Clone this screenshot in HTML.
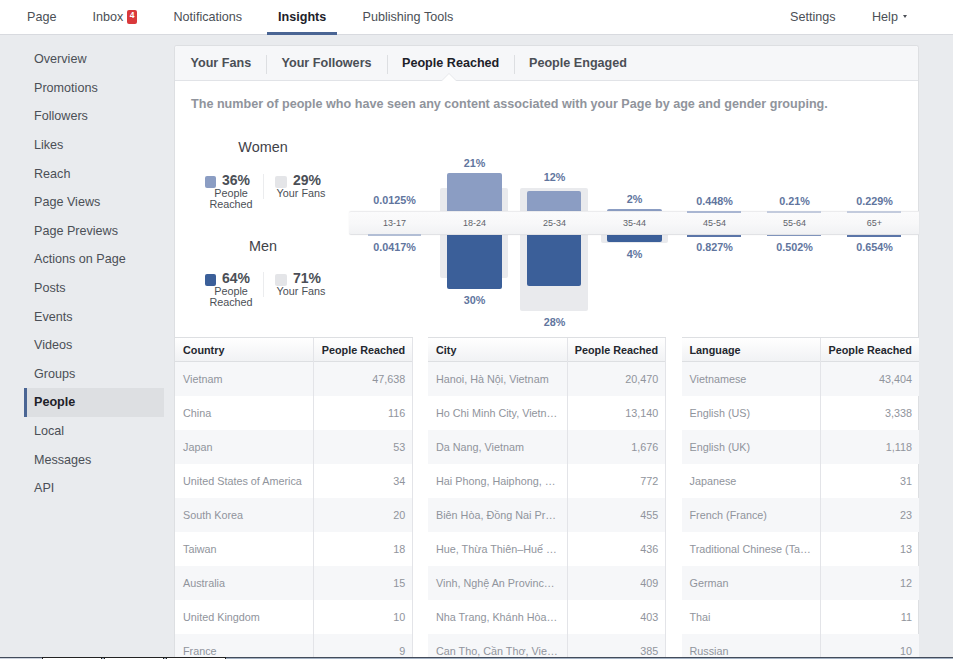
<!DOCTYPE html>
<html>
<head>
<meta charset="utf-8">
<title>Insights - People Reached</title>
<style>
*{box-sizing:border-box;margin:0;padding:0}
html,body{width:953px;height:659px;overflow:hidden}
body{background:#e9ebee;font-family:"Liberation Sans",sans-serif;color:#4b4f56;position:relative}
.abs{position:absolute;white-space:nowrap}
/* top nav */
#top{position:absolute;left:0;top:0;width:953px;height:35px;background:#fff;border-bottom:1px solid #d8dadf}
#top .it{position:absolute;top:10px;font-size:12.6px;line-height:15px;color:#4b4f56;white-space:nowrap}
#top .act{font-weight:bold;color:#1d2129}
#uline{position:absolute;left:267px;top:32px;width:70px;height:3px;background:#4a6594}
#badge{position:absolute;left:127px;top:10px;width:10px;height:13.7px;background:#d9393b;border-radius:2px;color:#fff;font-size:8.5px;font-weight:bold;line-height:11px;text-align:center}
#caret{position:absolute;left:903px;top:15px;width:0;height:0;border-left:2.5px solid transparent;border-right:2.5px solid transparent;border-top:3px solid #4b4f56}
/* sidebar */
.sb{position:absolute;left:34px;font-size:12.6px;line-height:15px;color:#4b4f56;white-space:nowrap}
#sel{position:absolute;left:24px;top:388px;width:140px;height:28.5px;background:#dddfe2;border-left:3px solid #4a6594}
/* card */
#card{position:absolute;left:174px;top:45px;width:745px;height:620px;background:#fff;border:1px solid #dddfe2;border-bottom:none;border-radius:3px 3px 0 0}
#tabs{position:absolute;left:0;top:0;width:743px;height:35px;background:#f6f7f9;border-bottom:1px solid #e1e3e7;border-radius:2px 2px 0 0}
.tab{position:absolute;top:10px;font-size:12.6px;line-height:15px;font-weight:bold;color:#4b4f56;white-space:nowrap}
.tsep{position:absolute;top:9px;width:1px;height:19px;background:#dddfe2}
#notch{position:absolute;left:266.6px;top:28px;width:0;height:0;border-left:7px solid transparent;border-right:7px solid transparent;border-bottom:7px solid #fff}
#notchb{position:absolute;left:265.6px;top:26.6px;width:0;height:0;border-left:8px solid transparent;border-right:8px solid transparent;border-bottom:8px solid #e6e8eb}
#desc{position:absolute;left:16px;top:51px;font-size:12.6px;line-height:15px;font-weight:bold;color:#90949c;white-space:nowrap}
/* chart (coordinates are page coords; container at 0,0 of body) */
.lbl{position:absolute;font-size:10.8px;line-height:12px;font-weight:bold;color:#61759e;text-align:center;width:80px;white-space:nowrap}
.age{position:absolute;top:217px;font-size:9px;line-height:12px;color:#5f636b;text-align:center;width:80px}
.bar{position:absolute}
.fan{background:#e9eaed;border-radius:2px}
.w{background:#8b9dc3;border-radius:2px 2px 0 0}
.m{background:#3b5f99;border-radius:0 0 2px 2px}
#band{position:absolute;left:349px;top:211.3px;width:570px;height:23.7px;background:linear-gradient(#fbfbfc 0%,#f8f8f9 50%,#f1f2f4 100%);border-top:1px solid #ececee;border-bottom:1px solid #e1e2e5;box-shadow:0 0 2px rgba(0,0,0,.05);border-radius:2px 0 0 2px}
.gt{position:absolute;font-size:14.4px;line-height:17px;color:#3f4248;white-space:nowrap;text-align:center}
.pc{position:absolute;font-size:14px;line-height:16px;font-weight:bold;color:#4b4f56;white-space:nowrap}
.sm{position:absolute;font-size:10.8px;line-height:11px;color:#4b4f56;text-align:center;white-space:nowrap}
.sq{position:absolute;width:11.2px;height:11.5px;border-radius:2px}
.vs{position:absolute;width:1px;height:25px;background:#ebecee}
/* tables */
.tbl{position:absolute;top:337px;width:238px;height:330px;border-top:1px solid #dddfe2}
.th{position:absolute;left:0;top:0;width:100%;height:24px;background:linear-gradient(#ffffff,#f1f2f4);border-bottom:1px solid #dddfe2}
.th span{position:absolute;top:6px;font-size:10.8px;line-height:12px;font-weight:bold;color:#23272e;white-space:nowrap}
.row{position:absolute;left:0;width:100%;height:34.06px;font-size:10.8px;line-height:12px;color:#90949c}
.row.o{background:#f6f7f9}
.row span{position:absolute;top:11px;white-space:nowrap}
.row .a{left:8px}
.row .b{right:7.8px}
.t3 .b{right:7.1px}
.t3 .th span+span{right:7.1px !important}
.cd{position:absolute;top:0;width:1px;height:100%;background:#e3e4e8}
#bl1{position:absolute;left:0;top:657px;width:953px;height:1px;background:#434c5b}
#bl2{position:absolute;left:0;top:658px;width:953px;height:1px;background:linear-gradient(90deg,#ccd2dd 0,#ccd2dd 42px,#a3b1c3 42px)}
#bl3{position:absolute;left:42px;top:657px;width:184px;height:1px;background:#222}
.ws{position:absolute;top:658px;height:1px;background:#fff;border-left:1px solid #222;border-right:1px solid #222}
</style>
</head>
<body>
<div id="top">
  <div class="it" style="left:27px">Page</div>
  <div class="it" style="left:92.5px">Inbox</div>
  <div id="badge">4</div>
  <div class="it" style="left:173.5px">Notifications</div>
  <div class="it act" style="left:278px">Insights</div>
  <div class="it" style="left:362.5px">Publishing Tools</div>
  <div class="it" style="left:790px">Settings</div>
  <div class="it" style="left:872px">Help</div>
  <div id="caret"></div>
  <div id="uline"></div>
</div>

<div id="sel"></div>
<div class="sb" style="top:52px">Overview</div>
<div class="sb" style="top:81px">Promotions</div>
<div class="sb" style="top:109px">Followers</div>
<div class="sb" style="top:138px">Likes</div>
<div class="sb" style="top:167px">Reach</div>
<div class="sb" style="top:195px">Page Views</div>
<div class="sb" style="top:224px">Page Previews</div>
<div class="sb" style="top:252px">Actions on Page</div>
<div class="sb" style="top:281px">Posts</div>
<div class="sb" style="top:310px">Events</div>
<div class="sb" style="top:338px">Videos</div>
<div class="sb" style="top:367px">Groups</div>
<div class="sb" style="top:395px;font-weight:bold;color:#1d2129">People</div>
<div class="sb" style="top:424px">Local</div>
<div class="sb" style="top:453px">Messages</div>
<div class="sb" style="top:481px">API</div>

<div id="card">
  <div id="tabs">
    <div class="tab" style="left:15.5px">Your Fans</div>
    <div class="tsep" style="left:91px"></div>
    <div class="tab" style="left:106.5px">Your Followers</div>
    <div class="tsep" style="left:212px"></div>
    <div class="tab" style="left:227px;color:#1d2129">People Reached</div>
    <div class="tsep" style="left:339px"></div>
    <div class="tab" style="left:354px">People Engaged</div>
    <div id="notchb"></div><div id="notch"></div>
  </div>
  <div id="desc">The number of people who have seen any content associated with your Page by age and gender grouping.</div>
</div>

<!-- legend -->
<div class="gt" style="left:223px;top:139px;width:80px">Women</div>
<div class="sq" style="left:205px;top:176px;background:#8b9dc3"></div>
<div class="pc" style="left:222px;top:171.5px">36%</div>
<div class="sm" style="left:201px;top:187.5px;width:60px">People<br>Reached</div>
<div class="vs" style="left:263px;top:173.5px"></div>
<div class="sq" style="left:275.3px;top:176px;width:11.8px;background:#e4e5e8"></div>
<div class="pc" style="left:293px;top:171.5px">29%</div>
<div class="sm" style="left:271px;top:187.5px;width:60px">Your Fans</div>

<div class="gt" style="left:223px;top:237.5px;width:80px">Men</div>
<div class="sq" style="left:205px;top:274px;background:#3b5f99"></div>
<div class="pc" style="left:222px;top:269.5px">64%</div>
<div class="sm" style="left:201px;top:285.5px;width:60px">People<br>Reached</div>
<div class="vs" style="left:263px;top:271.5px"></div>
<div class="sq" style="left:275.3px;top:274px;width:11.8px;background:#e4e5e8"></div>
<div class="pc" style="left:293px;top:269.5px">71%</div>
<div class="sm" style="left:271px;top:285.5px;width:60px">Your Fans</div>

<!-- bars: fan (grey) first, then reach bars -->
<div class="bar fan" style="left:440.4px;top:188.2px;width:68px;height:90px"></div>
<div class="bar fan" style="left:520px;top:188.2px;width:67.8px;height:123px"></div>
<div class="bar fan" style="left:600.8px;top:211px;width:67.2px;height:31.6px"></div>

<div class="bar w" style="left:447.3px;top:173.4px;width:54.3px;height:49.6px"></div>
<div class="bar m" style="left:447.3px;top:223px;width:54.3px;height:65.7px"></div>
<div class="bar w" style="left:527.2px;top:190.5px;width:53.8px;height:33px"></div>
<div class="bar m" style="left:527.2px;top:223px;width:53.8px;height:62.5px"></div>
<div class="bar w" style="left:607px;top:209px;width:54.8px;height:14px"></div>
<div class="bar m" style="left:607px;top:223px;width:54.8px;height:19.1px"></div>

<div id="band"></div>
<!-- thin lines for tiny columns -->
<div class="bar" style="left:367.8px;top:234px;width:53px;height:2px;background:#b2bed5"></div>
<div class="bar" style="left:687px;top:211px;width:54px;height:1.5px;background:#a9b6d2"></div>
<div class="bar" style="left:687px;top:234.5px;width:54px;height:2px;background:#5b75a8"></div>
<div class="bar" style="left:767px;top:211px;width:54px;height:1.5px;background:#c3cbdd"></div>
<div class="bar" style="left:767px;top:234.5px;width:54px;height:1.5px;background:#7f93bb"></div>
<div class="bar" style="left:847px;top:211px;width:54px;height:1.5px;background:#c3cbdd"></div>
<div class="bar" style="left:847px;top:234.5px;width:54px;height:2px;background:#5b75a8"></div>

<div class="age" style="left:354.5px">13-17</div>
<div class="age" style="left:434.5px">18-24</div>
<div class="age" style="left:514.5px">25-34</div>
<div class="age" style="left:594.5px">35-44</div>
<div class="age" style="left:674.5px">45-54</div>
<div class="age" style="left:754.5px">55-64</div>
<div class="age" style="left:834.5px">65+</div>

<div class="lbl" style="left:354.5px;top:193.5px">0.0125%</div>
<div class="lbl" style="left:354.5px;top:241px">0.0417%</div>
<div class="lbl" style="left:434.5px;top:156.5px">21%</div>
<div class="lbl" style="left:434.5px;top:294px">30%</div>
<div class="lbl" style="left:514.5px;top:170.5px">12%</div>
<div class="lbl" style="left:514.5px;top:316px">28%</div>
<div class="lbl" style="left:594.5px;top:193px">2%</div>
<div class="lbl" style="left:594.5px;top:248px">4%</div>
<div class="lbl" style="left:674.5px;top:195px">0.448%</div>
<div class="lbl" style="left:674.5px;top:240.5px">0.827%</div>
<div class="lbl" style="left:754.5px;top:195px">0.21%</div>
<div class="lbl" style="left:754.5px;top:240.5px">0.502%</div>
<div class="lbl" style="left:834.5px;top:195px">0.229%</div>
<div class="lbl" style="left:834.5px;top:240.5px">0.654%</div>

<!-- tables -->
<div class="tbl" style="left:175px">
  <div class="th"><span style="left:8px">Country</span><span style="right:7.8px">People Reached</span></div>
  <div class="row o" style="top:23.60px"><span class="a">Vietnam</span><span class="b">47,638</span></div>
  <div class="row" style="top:57.66px"><span class="a">China</span><span class="b">116</span></div>
  <div class="row o" style="top:91.72px"><span class="a">Japan</span><span class="b">53</span></div>
  <div class="row" style="top:125.78px"><span class="a">United States of America</span><span class="b">34</span></div>
  <div class="row o" style="top:159.84px"><span class="a">South Korea</span><span class="b">20</span></div>
  <div class="row" style="top:193.90px"><span class="a">Taiwan</span><span class="b">18</span></div>
  <div class="row o" style="top:227.96px"><span class="a">Australia</span><span class="b">15</span></div>
  <div class="row" style="top:262.02px"><span class="a">United Kingdom</span><span class="b">10</span></div>
  <div class="row o" style="top:296.08px"><span class="a">France</span><span class="b">9</span></div>
  <div class="cd" style="left:138px"></div>
  <div class="cd" style="left:237px"></div>
</div>
<div class="tbl" style="left:428px">
  <div class="th"><span style="left:8px">City</span><span style="right:7.8px">People Reached</span></div>
  <div class="row o" style="top:23.60px"><span class="a">Hanoi, Hà Nội, Vietnam</span><span class="b">20,470</span></div>
  <div class="row" style="top:57.66px"><span class="a">Ho Chi Minh City, Vietn…</span><span class="b">13,140</span></div>
  <div class="row o" style="top:91.72px"><span class="a">Da Nang, Vietnam</span><span class="b">1,676</span></div>
  <div class="row" style="top:125.78px"><span class="a">Hai Phong, Haiphong, …</span><span class="b">772</span></div>
  <div class="row o" style="top:159.84px"><span class="a">Biên Hòa, Đồng Nai Pr…</span><span class="b">455</span></div>
  <div class="row" style="top:193.90px"><span class="a">Hue, Thừa Thiên–Huế …</span><span class="b">436</span></div>
  <div class="row o" style="top:227.96px"><span class="a">Vinh, Nghệ An Provinc…</span><span class="b">409</span></div>
  <div class="row" style="top:262.02px"><span class="a">Nha Trang, Khánh Hòa…</span><span class="b">403</span></div>
  <div class="row o" style="top:296.08px"><span class="a">Can Tho, Cần Thơ, Vie…</span><span class="b">385</span></div>
  <div class="cd" style="left:139.2px"></div>
  <div class="cd" style="left:237px"></div>
</div>
<div class="tbl t3" style="left:681.5px;width:237.5px">
  <div class="th"><span style="left:8px">Language</span><span style="right:7.8px">People Reached</span></div>
  <div class="row o" style="top:23.60px"><span class="a">Vietnamese</span><span class="b">43,404</span></div>
  <div class="row" style="top:57.66px"><span class="a">English (US)</span><span class="b">3,338</span></div>
  <div class="row o" style="top:91.72px"><span class="a">English (UK)</span><span class="b">1,118</span></div>
  <div class="row" style="top:125.78px"><span class="a">Japanese</span><span class="b">31</span></div>
  <div class="row o" style="top:159.84px"><span class="a">French (France)</span><span class="b">23</span></div>
  <div class="row" style="top:193.90px"><span class="a">Traditional Chinese (Ta…</span><span class="b">13</span></div>
  <div class="row o" style="top:227.96px"><span class="a">German</span><span class="b">12</span></div>
  <div class="row" style="top:262.02px"><span class="a">Thai</span><span class="b">11</span></div>
  <div class="row o" style="top:296.08px"><span class="a">Russian</span><span class="b">10</span></div>
  <div class="cd" style="left:138.5px"></div>
</div>

<div id="bl1"></div><div id="bl2"></div><div id="bl3"></div>
<div class="ws" style="left:42px;width:60px"></div>
<div class="ws" style="left:104px;width:60px"></div>
<div class="ws" style="left:166px;width:60px"></div>
</body>
</html>
